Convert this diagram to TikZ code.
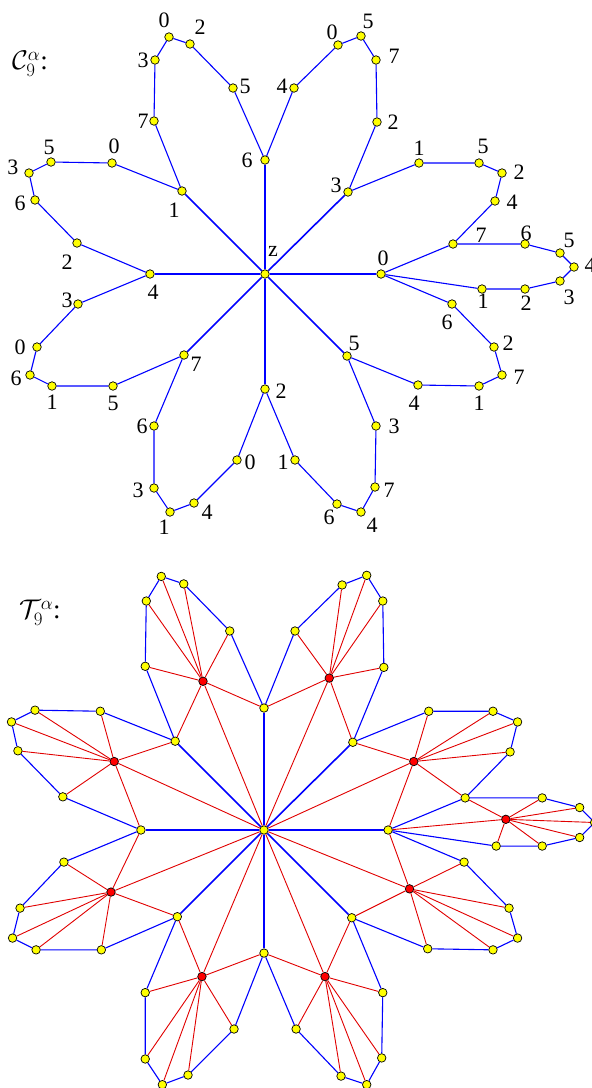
\RequirePackage{fix-cm}
\documentclass[tikz,border=0pt]{standalone}
\usepackage{fontspec}
\setmainfont{Liberation Serif}
\pgfdeclarelayer{bg}
\pgfsetlayers{bg,main}
\definecolor{vblue}{RGB}{0,0,255}
\definecolor{vred}{RGB}{225,0,0}
\definecolor{vyel}{RGB}{255,255,0}
\tikzset{
  v/.style={circle,draw=black,fill=vyel,line width=0.7pt,minimum size=8.5pt,inner sep=0pt},
  rv/.style={v,fill=red},
  pedge/.style={draw=vblue,line width=1.1pt},
  spoke/.style={draw=vblue,line width=1.6pt},
  redge/.style={draw=vred,line width=0.9pt},
  lab/.style={inner sep=0pt,font=\fontsize{22}{22}\selectfont},
  ttl/.style={inner sep=0pt,anchor=west,font=\fontsize{27}{27}\selectfont},
}
\newcommand\flowernodes[1]{%
  \node[v] (#1z) at (0,0) {};
  \foreach \nm/\px/\py in {
    s0/0/-114, s1/83/-82, s2/116/0, s3/82/82, s4/0/115, s5/-81/81, s6/-115/0, s7/-83/-83,
    a1/29/-186, a2/73/-229, a3/96/-238, a4/111/-214, a5/112/-152,
    b1/154/-111, b2/214/-111, b3/237/-101, b4/230/-73, b5/188/-30,
    c1/187/30, c2/229/73, c3/237/101, c4/214/112, c5/153/111,
    d1/111/152, d2/110/213, d3/96/238, d4/72/230, d5/30/186,
    f1/-28/186, f2/-71/229, f3/-95/238, f4/-111/214, f5/-111/152,
    g1/-152/112, g2/-213/112, g3/-235/101, g4/-228/73, g5/-187/30,
    h1/-188/-31, h2/-230/-74, h3/-236/-101, h4/-214/-112, h5/-153/-111,
    k1/-111/-153, k2/-110/-214, k3/-96/-237, k4/-75/-230, k5/-32/-186,
    e1/260/-30, e2/295/-21, e3/309/-7, e4/295/7, e5/260/15, e6/217/15}
    {\node[v] (#1\nm) at (\px,\py) {};}
}
\newcommand\floweredges[1]{%
  \foreach \nm in {s0,s1,s2,s3,s4,s5,s6,s7} {\draw[spoke] (#1z) -- (#1\nm);}
  \draw[pedge] (#1s0) -- (#1a1) -- (#1a2) -- (#1a3) -- (#1a4) -- (#1a5) -- (#1s1);
  \draw[pedge] (#1s1) -- (#1b1) -- (#1b2) -- (#1b3) -- (#1b4) -- (#1b5) -- (#1s2);
  \draw[pedge] (#1s2) -- (#1c1) -- (#1c2) -- (#1c3) -- (#1c4) -- (#1c5) -- (#1s3);
  \draw[pedge] (#1s3) -- (#1d1) -- (#1d2) -- (#1d3) -- (#1d4) -- (#1d5) -- (#1s4);
  \draw[pedge] (#1s4) -- (#1f1) -- (#1f2) -- (#1f3) -- (#1f4) -- (#1f5) -- (#1s5);
  \draw[pedge] (#1s5) -- (#1g1) -- (#1g2) -- (#1g3) -- (#1g4) -- (#1g5) -- (#1s6);
  \draw[pedge] (#1s6) -- (#1h1) -- (#1h2) -- (#1h3) -- (#1h4) -- (#1h5) -- (#1s7);
  \draw[pedge] (#1s7) -- (#1k1) -- (#1k2) -- (#1k3) -- (#1k4) -- (#1k5) -- (#1s0);
  \draw[pedge] (#1b5) -- (#1e1) -- (#1e2) -- (#1e3) -- (#1e4) -- (#1e5) -- (#1e6) -- (#1s2);
}
\begin{document}
\begin{tikzpicture}[x=1pt,y=-1pt]
\useasboundingbox (0,0) rectangle (592,1088);
\begin{pgfonlayer}{bg}
  \fill[white] (0,0) rectangle (592,1088);
\end{pgfonlayer}

% ---------- top: C_9^alpha ----------
\node[ttl] (ctitle) at (12,64) {$\mathcal{C}_9^{\alpha}$:};
\begin{scope}[shift={(265,274)}]
  \flowernodes{T}
  \begin{pgfonlayer}{bg}
    \floweredges{T}
  \end{pgfonlayer}
  \foreach \px/\py/\t in {
    8/-23/z,
    -18/-114/6, 71/-89/3, 118/-16/0, 89/69/5, 16/117/2, -69/90/7, -112/18/4, -91/-64/1,
    17/-188/4, 67/-242/0, 103/-253/5, 129/-218/7, 128/-152/2,
    154/-126/1, 218/-128/5, 254/-102/2, 247/-72/4, 216/-39/7,
    182/48/6, 243/69/2, 254/103/7, 214/129/1, 149/129/4,
    129/152/3, 124/216/7, 107/251/4, 64/243/6, 18/188/1,
    -15/188/0, -58/238/4, -101/253/1, -127/216/3, -123/152/6,
    -152/129/5, -213/128/1, -249/104/6, -245/73/0, -198/26/3,
    -198/-12/2, -245/-71/6, -252/-107/3, -216/-127/5, -151/-128/0,
    -122/-153/7, -122/-214/3, -101/-254/0, -65/-247/2, -20/-188/5,
    261/-41/6, 304/-34/5, 325/-9/4, 304/23/3, 261/29/2, 218/27/1}
    {\node[lab] at (\px,\py) {\t};}
\end{scope}

% ---------- bottom: T_9^alpha ----------
\node[ttl] (ttitle) at (19,613) {$\mathcal{T}_9^{\alpha}$:};
\begin{scope}[shift={(264,830)},x=1.07pt,y=-1.07pt]
  \flowernodes{B}
  \node[rv] (Bra) at (61,-142) {};
  \node[rv] (Brb) at (140,-64) {};
  \node[rv] (Brc) at (136,55) {};
  \node[rv] (Brd) at (57,137) {};
  \node[rv] (Brf) at (-58,137) {};
  \node[rv] (Brg) at (-143,58) {};
  \node[rv] (Brh) at (-140,-64) {};
  \node[rv] (Brk) at (-57,-139) {};
  \node[rv] (Bre) at (226,-10) {};
  \begin{pgfonlayer}{bg}
    \foreach \p/\u/\w in {a/s0/s1, b/s1/s2, c/s2/s3, d/s3/s4, f/s4/s5, g/s5/s6, h/s6/s7, k/s7/s0}
      {\foreach \t in {z,\u,\w,\p1,\p2,\p3,\p4,\p5} {\draw[redge] (Br\p) -- (B\t);}}
    \foreach \t in {b5,e1,e2,e3,e4,e5,e6,s2} {\draw[redge] (Bre) -- (B\t);}
    \floweredges{B}
  \end{pgfonlayer}
\end{scope}
\end{tikzpicture}
\end{document}
